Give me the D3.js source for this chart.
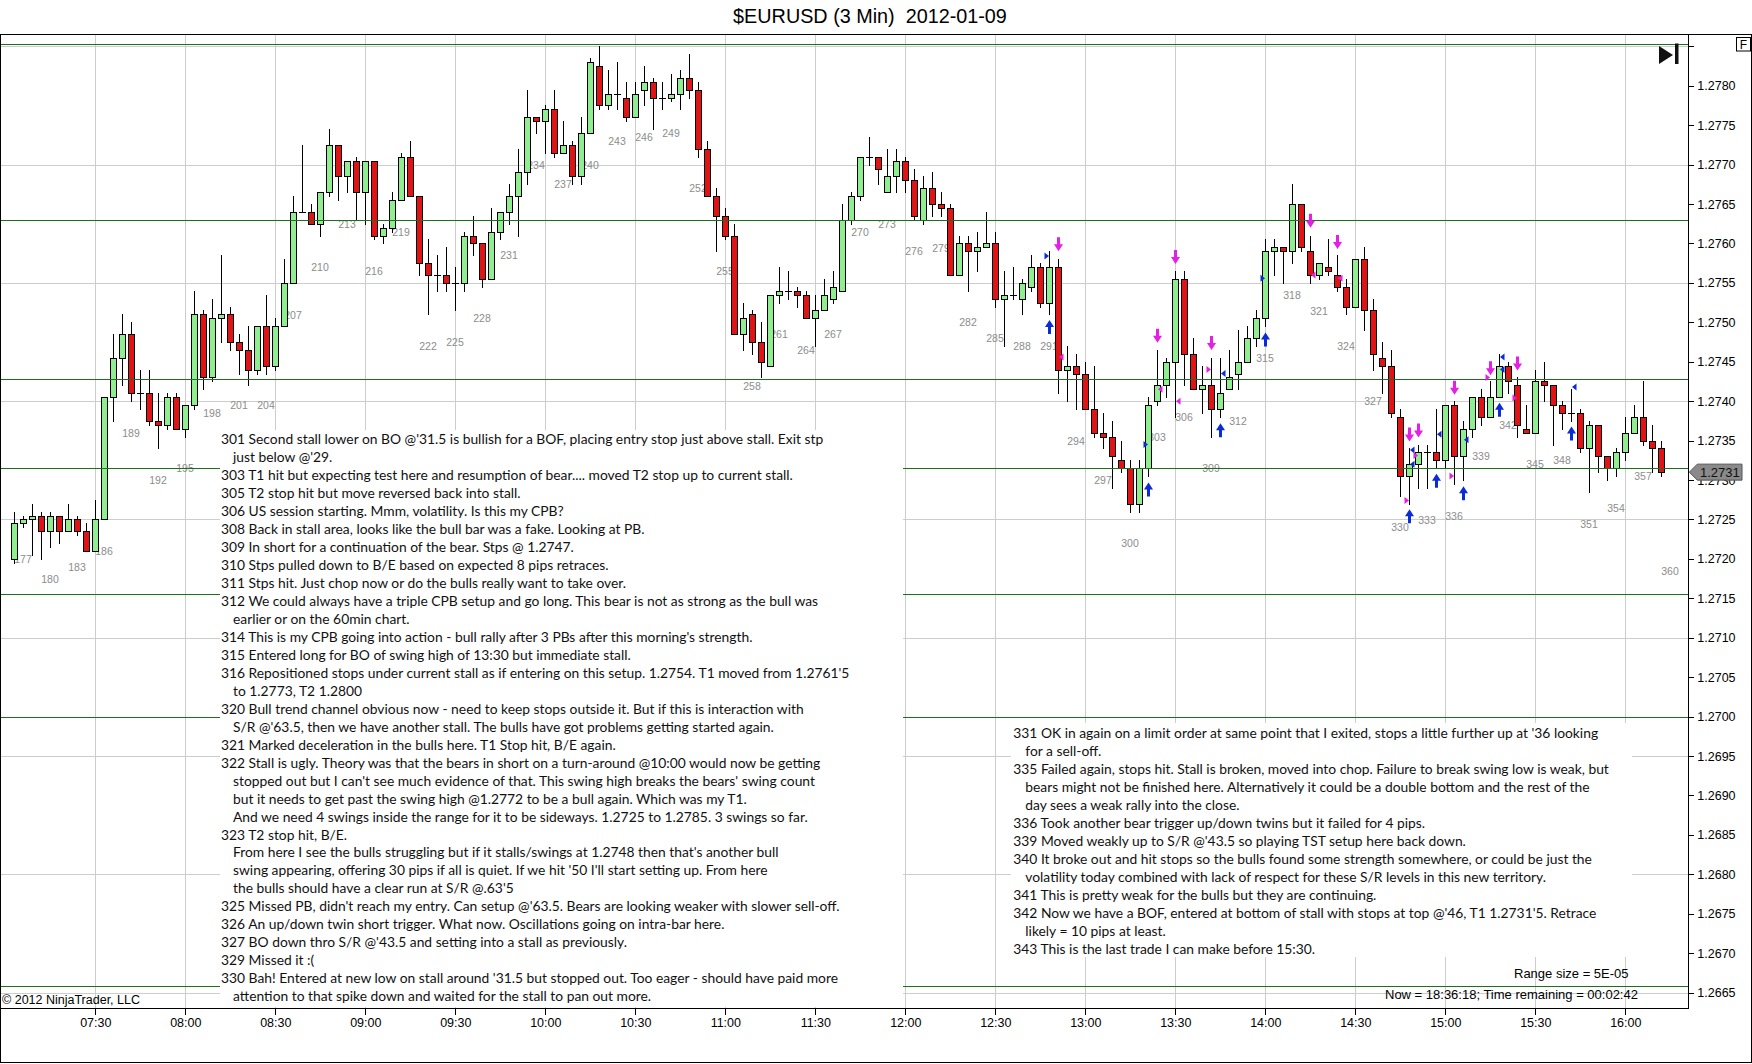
<!DOCTYPE html>
<html>
<head>
<meta charset="utf-8">
<script src="https://cdn.jsdelivr.net/npm/d3@7"></script>
<style>
  html, body { margin: 0; padding: 0; background: #fff; }
  svg { display: block; }
</style>
</head>
<body>
<svg id="chart" width="1752" height="1064"></svg>
<script>
// ---- data ----
// each bar: [bar number, open, high, low, close]
const candles = [
  [176,1.27200,1.27260,1.27195,1.27245],[177,1.27245,1.27255,1.27240,1.27250],
  [178,1.27250,1.27270,1.27205,1.27255],[179,1.27255,1.27260,1.27200,1.27235],
  [180,1.27235,1.27260,1.27215,1.27255],[181,1.27255,1.27255,1.27220,1.27235],
  [182,1.27235,1.27270,1.27235,1.27250],[183,1.27250,1.27255,1.27230,1.27235],
  [184,1.27235,1.27245,1.27210,1.27210],[185,1.27210,1.27275,1.27210,1.27250],
  [186,1.27250,1.27405,1.27250,1.27405],[187,1.27405,1.27485,1.27375,1.27455],
  [188,1.27455,1.27510,1.27420,1.27485],[189,1.27485,1.27500,1.27400,1.27410],
  [190,1.27410,1.27440,1.27390,1.27410],[191,1.27410,1.27440,1.27370,1.27375],
  [192,1.27375,1.27410,1.27340,1.27370],[193,1.27370,1.27410,1.27365,1.27405],
  [194,1.27405,1.27410,1.27365,1.27365],[195,1.27365,1.27395,1.27355,1.27395],
  [196,1.27395,1.27540,1.27390,1.27510],[197,1.27510,1.27515,1.27415,1.27430],
  [198,1.27430,1.27530,1.27425,1.27505],[199,1.27505,1.27585,1.27475,1.27510],
  [200,1.27510,1.27520,1.27465,1.27475],[201,1.27475,1.27485,1.27435,1.27465],
  [202,1.27465,1.27495,1.27420,1.27440],[203,1.27440,1.27495,1.27435,1.27495],
  [204,1.27495,1.27535,1.27435,1.27445],[205,1.27445,1.27505,1.27440,1.27495],
  [206,1.27495,1.27580,1.27495,1.27550],[207,1.27550,1.27660,1.27550,1.27640],
  [208,1.27640,1.27725,1.27640,1.27640],[209,1.27640,1.27650,1.27625,1.27625],
  [210,1.27625,1.27665,1.27610,1.27665],[211,1.27665,1.27745,1.27660,1.27725],
  [212,1.27725,1.27725,1.27655,1.27685],[213,1.27685,1.27705,1.27665,1.27705],
  [214,1.27705,1.27710,1.27630,1.27665],[215,1.27665,1.27705,1.27625,1.27705],
  [216,1.27705,1.27705,1.27605,1.27610],[217,1.27610,1.27625,1.27600,1.27620],
  [218,1.27620,1.27665,1.27615,1.27655],[219,1.27655,1.27715,1.27655,1.27710],
  [220,1.27710,1.27730,1.27660,1.27660],[221,1.27660,1.27660,1.27560,1.27575],
  [222,1.27575,1.27605,1.27510,1.27560],[223,1.27560,1.27585,1.27540,1.27560],
  [224,1.27560,1.27595,1.27540,1.27550],[225,1.27550,1.27570,1.27515,1.27550],
  [226,1.27550,1.27615,1.27540,1.27610],[227,1.27610,1.27635,1.27585,1.27600],
  [228,1.27600,1.27600,1.27545,1.27555],[229,1.27555,1.27645,1.27555,1.27615],
  [230,1.27615,1.27640,1.27605,1.27640],[231,1.27640,1.27675,1.27625,1.27660],
  [232,1.27660,1.27720,1.27610,1.27690],[233,1.27690,1.27795,1.27675,1.27760],
  [234,1.27760,1.27760,1.27740,1.27755],[235,1.27755,1.27775,1.27715,1.27770],
  [236,1.27770,1.27795,1.27710,1.27715],[237,1.27715,1.27755,1.27715,1.27725],
  [238,1.27725,1.27730,1.27675,1.27685],[239,1.27685,1.27760,1.27675,1.27740],
  [240,1.27740,1.27835,1.27740,1.27830],[241,1.27825,1.27850,1.27770,1.27775],
  [242,1.27775,1.27820,1.27770,1.27790],[243,1.27790,1.27830,1.27770,1.27790],
  [244,1.27785,1.27805,1.27755,1.27760],[245,1.27760,1.27805,1.27760,1.27790],
  [246,1.27795,1.27825,1.27775,1.27805],[247,1.27805,1.27810,1.27745,1.27785],
  [248,1.27785,1.27805,1.27770,1.27785],[249,1.27785,1.27815,1.27780,1.27790],
  [250,1.27790,1.27820,1.27770,1.27810],[251,1.27810,1.27840,1.27785,1.27795],
  [252,1.27795,1.27805,1.27710,1.27720],[253,1.27720,1.27730,1.27660,1.27660],
  [254,1.27660,1.27670,1.27590,1.27635],[255,1.27635,1.27645,1.27605,1.27610],
  [256,1.27610,1.27625,1.27485,1.27485],[257,1.27485,1.27525,1.27465,1.27505],
  [258,1.27510,1.27515,1.27460,1.27475],[259,1.27475,1.27500,1.27430,1.27450],
  [260,1.27445,1.27535,1.27445,1.27535],[261,1.27535,1.27570,1.27525,1.27540],
  [262,1.27540,1.27565,1.27530,1.27540],[263,1.27540,1.27545,1.27520,1.27535],
  [264,1.27535,1.27540,1.27505,1.27505],[265,1.27505,1.27535,1.27470,1.27515],
  [266,1.27515,1.27555,1.27515,1.27535],[267,1.27530,1.27565,1.27525,1.27545],
  [268,1.27540,1.27650,1.27540,1.27630],[269,1.27630,1.27665,1.27625,1.27660],
  [270,1.27660,1.27710,1.27655,1.27710],[271,1.27710,1.27735,1.27700,1.27710],
  [272,1.27710,1.27710,1.27675,1.27695],[273,1.27665,1.27720,1.27665,1.27685],
  [274,1.27685,1.27720,1.27665,1.27705],[275,1.27705,1.27710,1.27665,1.27680],
  [276,1.27680,1.27695,1.27630,1.27635],[277,1.27630,1.27685,1.27625,1.27670],
  [278,1.27670,1.27690,1.27635,1.27650],[279,1.27650,1.27665,1.27635,1.27645],
  [280,1.27645,1.27650,1.27560,1.27560],[281,1.27560,1.27610,1.27560,1.27600],
  [282,1.27600,1.27610,1.27540,1.27590],[283,1.27590,1.27615,1.27565,1.27595],
  [284,1.27595,1.27640,1.27595,1.27600],[285,1.27600,1.27615,1.27520,1.27530],
  [286,1.27530,1.27565,1.27470,1.27535],[287,1.27535,1.27570,1.27530,1.27535],
  [288,1.27530,1.27555,1.27510,1.27550],[289,1.27545,1.27585,1.27540,1.27570],
  [290,1.27570,1.27575,1.27520,1.27525],[291,1.27525,1.27590,1.27510,1.27570],
  [292,1.27570,1.27580,1.27410,1.27440],[293,1.27440,1.27470,1.27400,1.27445],
  [294,1.27445,1.27460,1.27390,1.27435],[295,1.27435,1.27450,1.27390,1.27390],
  [296,1.27390,1.27445,1.27355,1.27360],[297,1.27360,1.27385,1.27340,1.27355],
  [298,1.27355,1.27375,1.27290,1.27330],[299,1.27325,1.27350,1.27310,1.27315],
  [300,1.27315,1.27325,1.27260,1.27270],[301,1.27270,1.27325,1.27260,1.27315],
  [302,1.27315,1.27405,1.27305,1.27395],[303,1.27400,1.27465,1.27395,1.27420],
  [304,1.27420,1.27455,1.27405,1.27450],[305,1.27450,1.27565,1.27380,1.27555],
  [306,1.27555,1.27565,1.27420,1.27460],[307,1.27460,1.27480,1.27415,1.27415],
  [308,1.27415,1.27445,1.27385,1.27420],[309,1.27420,1.27455,1.27355,1.27390],
  [310,1.27390,1.27455,1.27380,1.27410],[311,1.27415,1.27465,1.27415,1.27430],
  [312,1.27435,1.27490,1.27415,1.27450],[313,1.27450,1.27495,1.27450,1.27480],
  [314,1.27480,1.27515,1.27470,1.27505],[315,1.27505,1.27605,1.27495,1.27590],
  [316,1.27590,1.27605,1.27560,1.27595],[317,1.27595,1.27595,1.27550,1.27590],
  [318,1.27590,1.27675,1.27575,1.27650],[319,1.27650,1.27650,1.27590,1.27595],
  [320,1.27590,1.27610,1.27550,1.27560],[321,1.27560,1.27575,1.27555,1.27575],
  [322,1.27570,1.27605,1.27560,1.27565],[323,1.27560,1.27585,1.27540,1.27545],
  [324,1.27545,1.27555,1.27510,1.27520],[325,1.27520,1.27580,1.27520,1.27580],
  [326,1.27580,1.27595,1.27490,1.27515],[327,1.27515,1.27530,1.27440,1.27460],
  [328,1.27455,1.27475,1.27410,1.27445],[329,1.27445,1.27465,1.27380,1.27385],
  [330,1.27380,1.27390,1.27280,1.27305],[331,1.27305,1.27340,1.27270,1.27320],
  [332,1.27320,1.27345,1.27290,1.27335],[333,1.27335,1.27345,1.27290,1.27335],
  [334,1.27335,1.27390,1.27315,1.27325],[335,1.27325,1.27395,1.27315,1.27395],
  [336,1.27395,1.27400,1.27295,1.27330],[337,1.27330,1.27375,1.27300,1.27365],
  [338,1.27365,1.27405,1.27355,1.27405],[339,1.27405,1.27415,1.27370,1.27380],
  [340,1.27380,1.27425,1.27380,1.27405],[341,1.27405,1.27460,1.27405,1.27445],
  [342,1.27445,1.27450,1.27410,1.27425],[343,1.27420,1.27430,1.27355,1.27370],
  [344,1.27365,1.27395,1.27360,1.27360],[345,1.27360,1.27440,1.27360,1.27425],
  [346,1.27425,1.27450,1.27400,1.27420],[347,1.27420,1.27420,1.27345,1.27395],
  [348,1.27395,1.27400,1.27365,1.27385],[349,1.27385,1.27415,1.27375,1.27385],
  [350,1.27385,1.27390,1.27335,1.27340],[351,1.27340,1.27375,1.27285,1.27370],
  [352,1.27370,1.27370,1.27310,1.27330],[353,1.27330,1.27330,1.27300,1.27315],
  [354,1.27315,1.27340,1.27305,1.27335],[355,1.27335,1.27380,1.27325,1.27360],
  [356,1.27360,1.27395,1.27360,1.27380],[357,1.27380,1.27425,1.27345,1.27350],
  [358,1.27350,1.27370,1.27310,1.27340],[359,1.27340,1.27350,1.27305,1.27310]
];
const firstBar = 176;          // 07:03 bar
const pendingBar = 360;        // label shown for the bar still forming
const pendingBarLow = 1.27225;

const timeTicks = ["07:30","08:00","08:30","09:00","09:30","10:00","10:30","11:00","11:30",
                   "12:00","12:30","13:00","13:30","14:00","14:30","15:00","15:30","16:00"];
const priceTicks = [1.2665,1.2670,1.2675,1.2680,1.2685,1.2690,1.2695,1.2700,1.2705,1.2710,
                    1.2715,1.2720,1.2725,1.2730,1.2735,1.2740,1.2745,1.2750,1.2755,1.2760,
                    1.2765,1.2770,1.2775,1.2780,1.2785];
const gridPrices = [1.2665,1.2680,1.2695,1.2710,1.2725,1.2740,1.2755,1.2770,1.2785];

// hand drawn support / resistance lines
const srLevels = [1.27853,1.27630,1.27428,1.27315,1.27155,1.27000,1.26658];

// trade markers: [bar, price, kind]
const markers = [
  [291,1.27584,"bRight"],[292,1.27590,"mDown"],[291,1.27503,"bUp"],[292,1.27456,"mLeft"],
  [303,1.27474,"mDown"],[303,1.27415,"mLeft"],[305,1.27574,"mDown"],[305,1.27400,"mLeft"],
  [302,1.27345,"bRight"],[302,1.27297,"bUp"],[309,1.27465,"mDown"],[309,1.27440,"mRight"],
  [310,1.27435,"bLeft"],[310,1.27372,"bUp"],[315,1.27556,"bRight"],[315,1.27487,"bUp"],
  [320,1.27620,"mDown"],[320,1.27560,"mLeft"],[323,1.27593,"mDown"],[323,1.27556,"mLeft"],
  [331,1.27349,"mDown"],[332,1.27354,"mDown"],[331,1.27338,"bLeft"],[331,1.27320,"bLeft"],
  [332,1.27331,"mRight"],[331,1.27274,"mRight"],[331,1.27263,"bUp"],[334,1.27308,"bUp"],
  [334,1.27358,"bLeft"],[336,1.27408,"mDown"],[336,1.27305,"mRight"],[337,1.27351,"bLeft"],
  [337,1.27292,"bUp"],[340,1.27433,"mDown"],[340,1.27430,"mRight"],[341,1.27456,"bLeft"],
  [341,1.27440,"bLeft"],[341,1.27398,"bUp"],[343,1.27439,"mDown"],[343,1.27404,"mRight"],
  [349,1.27418,"bLeft"],[349,1.27368,"bUp"]
];

// trade journal notes (leading spaces = continuation line)
const notesLeft = [
  "301 Second stall lower on BO @'31.5 is bullish for a BOF, placing entry stop just above stall. Exit stp",
  "  just below @'29.",
  "303 T1 hit but expecting test here and resumption of bear.... moved T2 stop up to current stall.",
  "305 T2 stop hit but move reversed back into stall.",
  "306 US session starting. Mmm, volatility. Is this my CPB?",
  "308 Back in stall area, looks like the bull bar was a fake. Looking at PB.",
  "309 In short for a continuation of the bear. Stps @ 1.2747.",
  "310 Stps pulled down to B/E based on expected 8 pips retraces.",
  "311 Stps hit. Just chop now or do the bulls really want to take over.",
  "312 We could always have a triple CPB setup and go long. This bear is not as strong as the bull was",
  "  earlier or on the 60min chart.",
  "314 This is my CPB going into action - bull rally after 3 PBs after this morning's strength.",
  "315 Entered long for BO of swing high of 13:30 but immediate stall.",
  "316 Repositioned stops under current stall as if entering on this setup. 1.2754. T1 moved from 1.2761'5",
  "  to 1.2773, T2 1.2800",
  "320 Bull trend channel obvious now - need to keep stops outside it. But if this is interaction with",
  "  S/R @'63.5, then we have another stall. The bulls have got problems getting started again.",
  "321 Marked deceleration in the bulls here. T1 Stop hit, B/E again.",
  "322 Stall is ugly. Theory was that the bears in short on a turn-around @10:00 would now be getting",
  "  stopped out but I can't see much evidence of that. This swing high breaks the bears' swing count",
  "  but it needs to get past the swing high @1.2772 to be a bull again. Which was my T1.",
  "  And we need 4 swings inside the range for it to be sideways. 1.2725 to 1.2785. 3 swings so far.",
  "323 T2 stop hit, B/E.",
  "  From here I see the bulls struggling but if it stalls/swings at 1.2748 then that's another bull",
  "  swing appearing, offering 30 pips if all is quiet. If we hit '50 I'll start setting up. From here",
  "  the bulls should have a clear run at S/R @.63'5",
  "325 Missed PB, didn't reach my entry. Can setup @'63.5. Bears are looking weaker with slower sell-off.",
  "326 An up/down twin short trigger. What now. Oscillations going on intra-bar here.",
  "327 BO down thro S/R @'43.5 and setting into a stall as previously.",
  "329 Missed it :(",
  "330 Bah! Entered at new low on stall around '31.5 but stopped out. Too eager - should have paid more",
  "  attention to that spike down and waited for the stall to pan out more."
];
const notesRight = [
  "331 OK in again on a limit order at same point that I exited, stops a little further up at '36 looking",
  "  for a sell-off.",
  "335 Failed again, stops hit. Stall is broken, moved into chop. Failure to break swing low is weak, but",
  "  bears might not be finished here. Alternatively it could be a double bottom and the rest of the",
  "  day sees a weak rally into the close.",
  "336 Took another bear trigger up/down twins but it failed for 4 pips.",
  "339 Moved weakly up to S/R @'43.5 so playing TST setup here back down.",
  "340 It broke out and hit stops so the bulls found some strength somewhere, or could be just the",
  "  volatility today combined with lack of respect for these S/R levels in this new territory.",
  "341 This is pretty weak for the bulls but they are continuing.",
  "342 Now we have a BOF, entered at bottom of stall with stops at top @'46, T1 1.2731'5. Retrace",
  "  likely = 10 pips at least.",
  "343 This is the last trade I can make before 15:30."
];

// ---- layout ----
const plot = { left: 0, top: 34.3, right: 1688.3, bottom: 1008.3 };
const yMin = 1.266301, yMax = 1.278652;
const axisFont = "'Liberation Sans', Arial, sans-serif";
const noteFont = "Lato, 'Open Sans', sans-serif";
const upFill = "#90ee90", downFill = "#e01414";
const magenta = "#e51fe5", blue = "#0b2bd8";

const svg = d3.select("#chart");
svg.append("rect").attr("width", 1752).attr("height", 1064).attr("fill", "#fff");

const x = d3.scaleTime()
  .domain([new Date(2012, 0, 9, 6, 58, 14), new Date(2012, 0, 9, 16, 21, 0)])
  .range([plot.left, plot.right]);
const y = d3.scaleLinear().domain([yMin, yMax]).range([plot.bottom, plot.top]);

function barTime(n) { return new Date(2012, 0, 9, 7, 3 + 3 * (n - firstBar)); }
function tickDate(s) { const p = s.split(":").map(Number); return new Date(2012, 0, 9, p[0], p[1]); }
const px = v => Math.round(v) + 0.5;
const bx = n => Math.round(x(barTime(n)));

// grid
const grid = svg.append("g").attr("stroke", "#cdcdcd").attr("shape-rendering", "crispEdges");
grid.selectAll(".v").data(timeTicks).join("line")
  .attr("x1", d => px(x(tickDate(d)))).attr("x2", d => px(x(tickDate(d))))
  .attr("y1", plot.top).attr("y2", plot.bottom);
grid.selectAll(".h").data(gridPrices).join("line")
  .attr("x1", plot.left).attr("x2", plot.right)
  .attr("y1", d => px(y(d))).attr("y2", d => px(y(d)));

// bar numbers every third bar
const labelBars = d3.range(177, pendingBar + 1, 3);
const lowOf = n => { const c = candles.find(r => r[0] === n); return c ? c[3] : pendingBarLow; };
svg.append("g")
  .attr("font-family", axisFont).attr("font-size", 10.5).attr("fill", "#8c8c8c")
  .attr("text-anchor", "middle")
  .selectAll("text").data(labelBars).join("text")
  .attr("x", d => bx(d)).attr("y", d => y(lowOf(d)) + 32).attr("dy", "0.35em")
  .text(d => d);

// candles
const cg = svg.append("g").attr("shape-rendering", "crispEdges");
cg.selectAll(".wick").data(candles).join("line")
  .attr("x1", d => bx(d[0]) + 0.5).attr("x2", d => bx(d[0]) + 0.5)
  .attr("y1", d => Math.round(y(d[2]))).attr("y2", d => Math.round(y(d[3])) + 1)
  .attr("stroke", "#000");
cg.selectAll(".body").data(candles.filter(d => d[1] !== d[4])).join("rect")
  .attr("x", d => bx(d[0]) - 2.5)
  .attr("width", 6)
  .attr("y", d => px(y(Math.max(d[1], d[4]))))
  .attr("height", d => Math.max(1, Math.round(y(Math.min(d[1], d[4]))) - Math.round(y(Math.max(d[1], d[4])))))
  .attr("fill", d => d[4] > d[1] ? upFill : downFill)
  .attr("stroke", "#000");
cg.selectAll(".doji").data(candles.filter(d => d[1] === d[4])).join("line")
  .attr("x1", d => bx(d[0]) - 3).attr("x2", d => bx(d[0]) + 4)
  .attr("y1", d => px(y(d[1]))).attr("y2", d => px(y(d[1])))
  .attr("stroke", "#000");

// S/R lines
svg.append("g").attr("stroke", "#1d6e1d").attr("shape-rendering", "crispEdges")
  .selectAll("line").data(srLevels).join("line")
  .attr("x1", plot.left).attr("x2", plot.right)
  .attr("y1", d => px(y(d))).attr("y2", d => px(y(d)));

// trade markers
function markerPath(kind, cx, cy) {
  switch (kind) {
    case "mDown": return `M${cx-1.5},${cy-14}h3v7h3L${cx},${cy}L${cx-4.5},${cy-7}h3Z`;
    case "bUp":   return `M${cx-1.5},${cy+14}h3v-7h3L${cx},${cy}L${cx-4.5},${cy+7}h3Z`;
    case "bRight": case "mRight": return `M${cx-5},${cy-3.5}L${cx-0.5},${cy}L${cx-5},${cy+3.5}Z`;
    default: return `M${cx+5},${cy-3.5}L${cx+0.5},${cy}L${cx+5},${cy+3.5}Z`;
  }
}
svg.append("g").selectAll("path").data(markers).join("path")
  .attr("d", d => markerPath(d[2], bx(d[0]) + 0.5, y(d[1])))
  .attr("fill", d => d[2][0] === "m" ? magenta : blue);

// journal notes on white boxes
const probe = svg.append("text").attr("font-family", noteFont).attr("font-size", 14).text(notesLeft[0]);
const noteSize = 14 * 603 / probe.node().getComputedTextLength();
probe.remove();

function drawNotes(lines, box, textX, firstY) {
  const g = svg.append("g");
  g.append("rect").attr("x", box[0]).attr("y", box[1]).attr("width", box[2]).attr("height", box[3]).attr("fill", "#fff");
  g.append("g").attr("font-family", noteFont).attr("font-size", noteSize).attr("fill", "#111")
    .selectAll("text").data(lines).join("text")
    .attr("x", d => d.startsWith(" ") ? textX + 12 : textX)
    .attr("y", (d, i) => firstY + i * 17.98)
    .attr("dy", "0.35em")
    .text(d => d.trim());
}
drawNotes(notesLeft, [220, 430, 683, 577], 221, 439.1);
drawNotes(notesRight, [1011, 723, 621, 234], 1013.3, 733.3);

// axes
const yAxis = svg.append("g").attr("transform", `translate(${plot.right},0)`)
  .call(d3.axisRight(y).tickValues(priceTicks)
    .tickFormat(d => d > 1.2783 ? "" : d3.format(".4f")(d))
    .tickSize(6).tickPadding(3).tickSizeOuter(0));
const xAxis = svg.append("g").attr("transform", `translate(0,${plot.bottom})`)
  .call(d3.axisBottom(x).tickValues(timeTicks.map(tickDate))
    .tickFormat(d3.timeFormat("%H:%M"))
    .tickSize(7).tickPadding(3).tickSizeOuter(0));
[yAxis, xAxis].forEach(a => {
  a.attr("font-family", axisFont).attr("font-size", 12.5);
  a.selectAll("text").attr("fill", "#000");
  a.selectAll("line, path").attr("stroke", "#000").attr("shape-rendering", "crispEdges");
});

// frame
svg.append("rect").attr("x", 0.5).attr("y", 34.5).attr("width", 1751).attr("height", 1028)
  .attr("fill", "none").attr("stroke", "#000").attr("shape-rendering", "crispEdges");

// last price tag (sits over the 1.2730 label, as in the original)
const lastClose = candles[candles.length - 1][4];
const ly = y(lastClose);
svg.append("path")
  .attr("d", `M${plot.right + 1},${ly}L${plot.right + 9},${ly - 8}H1742V${ly + 8}H${plot.right + 9}Z`)
  .attr("fill", "#8a8a8a").attr("stroke", "#555");
svg.append("text").attr("x", 1700).attr("y", ly).attr("dy", "0.36em")
  .attr("font-family", axisFont).attr("font-size", 13).attr("fill", "#111")
  .text(d3.format(".4f")(lastClose));

// title and status texts
svg.append("text").attr("x", 870).attr("y", 23).attr("text-anchor", "middle")
  .attr("font-family", axisFont).attr("font-size", 19.8).style("white-space", "pre")
  .text("$EURUSD (3 Min)  2012-01-09");
svg.append("text").attr("x", 1514).attr("y", 978)
  .attr("font-family", axisFont).attr("font-size", 13).text("Range size = 5E-05");
svg.append("text").attr("x", 1385).attr("y", 998.5)
  .attr("font-family", axisFont).attr("font-size", 13).text("Now = 18:36:18; Time remaining = 00:02:42");
svg.append("text").attr("x", 2).attr("y", 1003.5)
  .attr("font-family", axisFont).attr("font-size", 12.5).text("\u00a9 2012 NinjaTrader, LLC");

// "go to last bar" button and F box
svg.append("path").attr("d", "M1659,46L1673,55L1659,64Z").attr("fill", "#111");
svg.append("rect").attr("x", 1675).attr("y", 43.5).attr("width", 3.5).attr("height", 20.5).attr("fill", "#111");
svg.append("rect").attr("x", 1736.5).attr("y", 37.5).attr("width", 14).attr("height", 13.5)
  .attr("fill", "#fff").attr("stroke", "#000");
svg.append("text").attr("x", 1743.5).attr("y", 48.5).attr("text-anchor", "middle")
  .attr("font-family", axisFont).attr("font-size", 12).text("F");
</script>
</body>
</html>
